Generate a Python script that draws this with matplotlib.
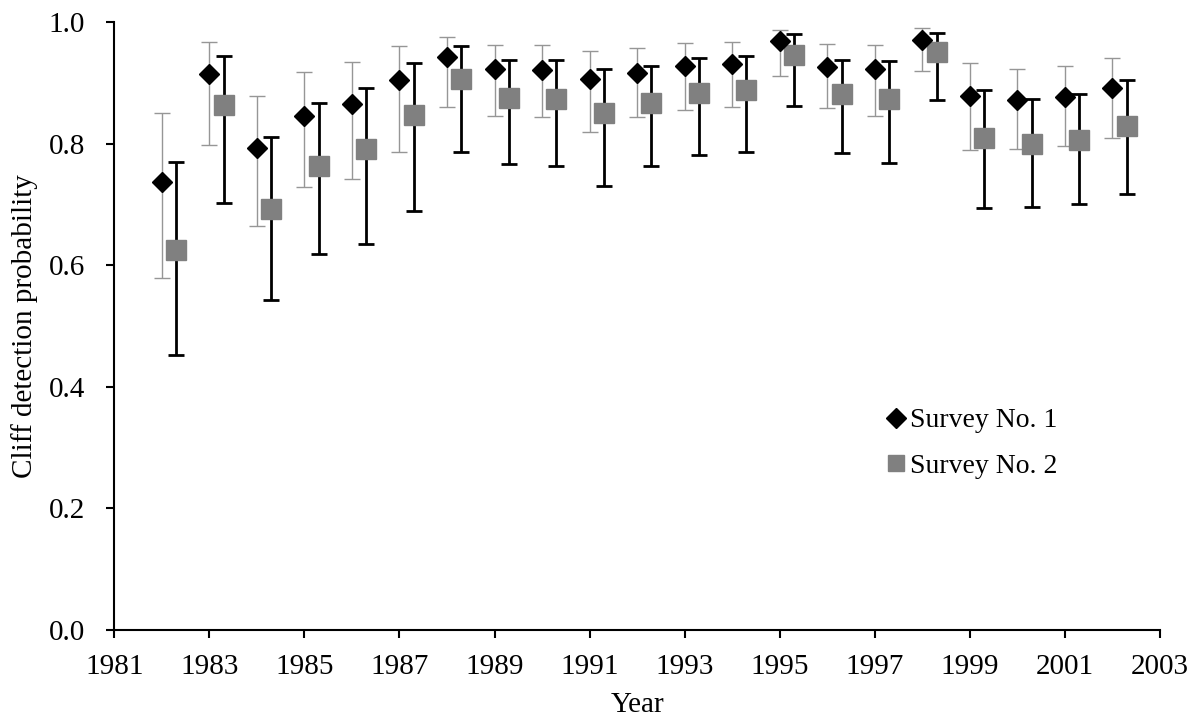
import matplotlib
matplotlib.use("Agg")
import matplotlib.pyplot as plt
from matplotlib.lines import Line2D
import numpy as np

years = list(range(1982, 2003))
s1_val = [0.737, 0.914, 0.792, 0.845, 0.865, 0.904, 0.942, 0.922, 0.921, 0.906, 0.916,
          0.928, 0.931, 0.968, 0.926, 0.922, 0.971, 0.878, 0.871, 0.876, 0.891]
s1_lo = [0.579, 0.797, 0.664, 0.729, 0.742, 0.787, 0.860, 0.845, 0.843, 0.819, 0.843,
         0.856, 0.860, 0.912, 0.858, 0.846, 0.919, 0.789, 0.791, 0.796, 0.809]
s1_hi = [0.851, 0.967, 0.879, 0.917, 0.934, 0.960, 0.976, 0.962, 0.962, 0.953, 0.957,
         0.965, 0.967, 0.987, 0.964, 0.962, 0.990, 0.932, 0.923, 0.927, 0.941]
s2_val = [0.625, 0.864, 0.692, 0.764, 0.791, 0.847, 0.906, 0.875, 0.874, 0.851, 0.866,
          0.883, 0.888, 0.946, 0.881, 0.874, 0.950, 0.810, 0.799, 0.806, 0.829]
s2_lo = [0.453, 0.703, 0.543, 0.618, 0.635, 0.690, 0.787, 0.767, 0.764, 0.731, 0.764,
         0.781, 0.787, 0.862, 0.784, 0.768, 0.872, 0.694, 0.695, 0.701, 0.717]
s2_hi = [0.770, 0.944, 0.811, 0.866, 0.892, 0.933, 0.961, 0.937, 0.937, 0.922, 0.928,
         0.941, 0.944, 0.980, 0.938, 0.936, 0.982, 0.889, 0.874, 0.881, 0.904]
labels = ["Survey No. 1", "Survey No. 2"]
x_offset = 0.3

plt.rcParams['font.family'] = ['Liberation Serif', 'DejaVu Serif']
FS = 21

fig = plt.figure(figsize=(11.99, 7.27), dpi=100)
ax = fig.add_axes([0.0953, 0.1334, 0.9675 - 0.0953, 0.9697 - 0.1334])

x1 = np.array(years, dtype=float)
x2 = x1 + x_offset
v1 = np.array(s1_val); v2 = np.array(s2_val)
e1 = [v1 - np.array(s1_lo), np.array(s1_hi) - v1]
e2 = [v2 - np.array(s2_lo), np.array(s2_hi) - v2]

ax.errorbar(x1, v1, yerr=e1, fmt='none', ecolor='#969696', elinewidth=1.0,
            capsize=6, capthick=1.0, zorder=2)
ax.errorbar(x2, v2, yerr=e2, fmt='none', ecolor='black', elinewidth=2.0,
            capsize=6, capthick=2.0, zorder=2)
ax.plot(x1, v1, linestyle='none', marker='D', markersize=10.5, color='black', zorder=4)
ax.plot(x2, v2, linestyle='none', marker='s', markersize=14, color='#808080', zorder=3)

ax.set_xlim(1981, 2003)
ax.set_ylim(0, 1.0)
ax.set_xticks(range(1981, 2004, 2))
ax.set_yticks(np.arange(0, 1.01, 0.2))
ax.set_yticklabels([f"{t:.1f}" for t in np.arange(0, 1.01, 0.2)])
for s in ['top', 'right']:
    ax.spines[s].set_visible(False)
for s in ['left', 'bottom']:
    ax.spines[s].set_linewidth(1.5)
ax.tick_params(axis='both', direction='out', length=6, width=1.5, labelsize=FS)
ax.tick_params(axis='x', pad=11)
ax.tick_params(axis='y', pad=15)
ax.set_xlabel("Year", fontsize=FS, labelpad=9)
ax.set_ylabel("Cliff detection probability", fontsize=FS, labelpad=8)

handles = [Line2D([], [], linestyle='none', marker='D', markersize=10, color='black'),
           Line2D([], [], linestyle='none', marker='s', markersize=12, color='#808080')]
ax.legend(handles, labels, loc='center left', bbox_to_anchor=(0.737, 0.307),
          frameon=False, fontsize=FS - 1, handlelength=0.8, handletextpad=0.1,
          labelspacing=0.72, borderpad=0, borderaxespad=0)

fig.savefig("out.png", dpi=100)
